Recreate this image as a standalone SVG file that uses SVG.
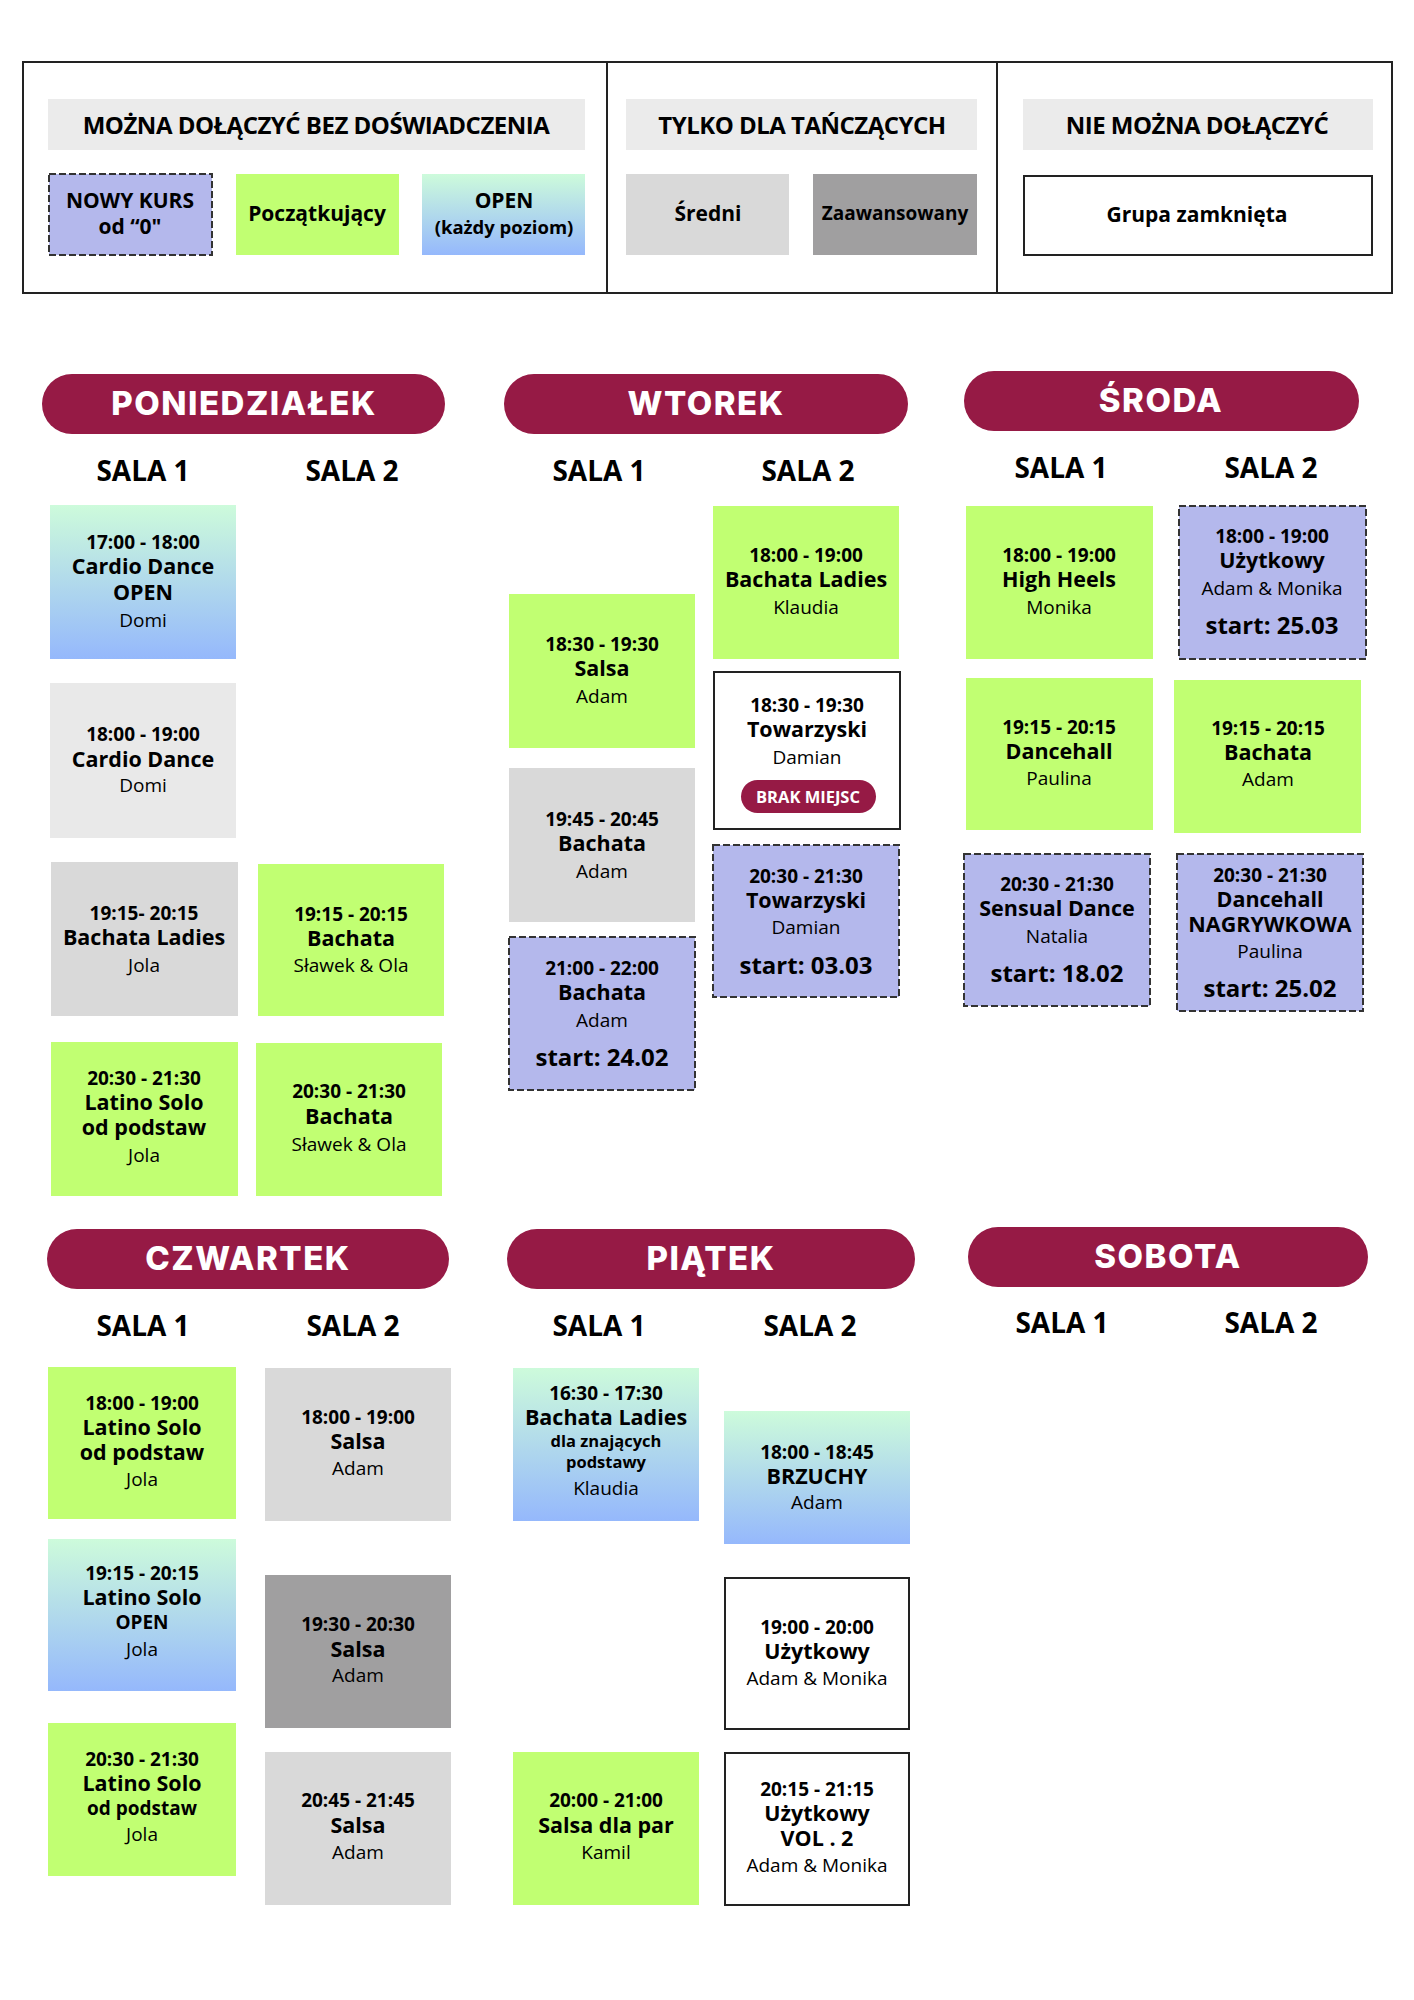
<svg xmlns="http://www.w3.org/2000/svg" width="1414" height="2000" viewBox="0 0 1414 2000">
<defs>
<linearGradient id="open" x1="0" y1="0" x2="0" y2="1">
<stop offset="0" stop-color="#cdfbdb"/>
<stop offset="1" stop-color="#95b8fc"/>
</linearGradient>
</defs>
<style>
text{font-family:"Open Sans","Liberation Sans",sans-serif;text-anchor:middle;fill:#000}
.leg{font-size:24px;font-weight:700;letter-spacing:-0.5px}
.legs{font-size:21px;font-weight:700}
.day{font-family:Inter,"Liberation Sans",sans-serif;font-size:33px;font-weight:800;fill:#fff;letter-spacing:1.5px}
.sala{font-size:28px;font-weight:700}
.t{font-size:19px;font-weight:700}
.h{font-size:21.5px;font-weight:700}
.s{font-size:16.5px;font-weight:700}
.n{font-size:19px;font-weight:400}
.st{font-size:24px;font-weight:700}
.brak{font-size:16.5px;font-weight:700;fill:#fff}
.pill{fill:#961a45}
.g{fill:#c1ff72}
.o{fill:url(#open)}
.m{fill:#d9d9d9}
.l{fill:#e9e9e9}
.d{fill:#a09fa0}
.p{fill:#b4b8ec;stroke:#333;stroke-width:2;stroke-dasharray:7 3}
.w{fill:#fff;stroke:#222;stroke-width:2}
.bar{fill:#ebebeb}
</style>
<rect width="1414" height="2000" fill="#fff"/>

<g id="legend">
<rect x="23" y="62" width="1369" height="231" fill="none" stroke="#222" stroke-width="2"/>
<line x1="607" y1="62" x2="607" y2="293" stroke="#222" stroke-width="2"/>
<line x1="997" y1="62" x2="997" y2="293" stroke="#222" stroke-width="2"/>
<rect class="bar" x="48" y="99" width="537" height="51"/>
<text class="leg" x="316" y="134">MOŻNA DOŁĄCZYĆ BEZ DOŚWIADCZENIA</text>
<rect class="bar" x="626" y="99" width="351" height="51"/>
<text class="leg" x="802" y="134">TYLKO DLA TAŃCZĄCYCH</text>
<rect class="bar" x="1023" y="99" width="350" height="51"/>
<text class="leg" x="1197" y="134">NIE MOŻNA DOŁĄCZYĆ</text>
<rect class="p" x="49" y="174" width="163" height="81"/>
<text class="legs" x="130" y="208">NOWY KURS</text>
<text class="legs" x="130" y="234">od “0"</text>
<rect class="g" x="236" y="174" width="163" height="81"/>
<text class="legs" x="317" y="221">Początkujący</text>
<rect class="o" x="422" y="174" width="163" height="81"/>
<text class="legs" x="504" y="208">OPEN</text>
<text class="legs" x="504" y="234" style="font-size:18.5px">(każdy poziom)</text>
<rect class="m" x="626" y="174" width="163" height="81"/>
<text class="legs" x="708" y="221">Średni</text>
<rect class="d" x="813" y="174" width="164" height="81"/>
<text class="legs" x="895" y="220" style="font-size:19px">Zaawansowany</text>
<rect class="w" x="1024" y="176" width="348" height="79"/>
<text class="legs" x="1197" y="222">Grupa zamknięta</text>
</g>

<g id="days">
<g id="pon-head"><rect class="pill" x="42" y="374" width="403" height="60" rx="30"/><text class="day" x="244" y="415">PONIEDZIAŁEK</text></g>
<g id="wt-head"><rect class="pill" x="504" y="374" width="404" height="60" rx="30"/><text class="day" x="706" y="415">WTOREK</text></g>
<g id="sr-head"><rect class="pill" x="964" y="371" width="395" height="60" rx="30"/><text class="day" x="1161" y="412">ŚRODA</text></g>
<g id="czw-head"><rect class="pill" x="47" y="1229" width="402" height="60" rx="30"/><text class="day" x="248" y="1270">CZWARTEK</text></g>
<g id="pt-head"><rect class="pill" x="507" y="1229" width="408" height="60" rx="30"/><text class="day" x="711" y="1270">PIĄTEK</text></g>
<g id="sob-head"><rect class="pill" x="968" y="1227" width="400" height="60" rx="30"/><text class="day" x="1168" y="1268">SOBOTA</text></g>
</g>

<g id="sale">
<text class="sala" x="143" y="481">SALA 1</text><text class="sala" x="352" y="481">SALA 2</text>
<text class="sala" x="599" y="481">SALA 1</text><text class="sala" x="808" y="481">SALA 2</text>
<text class="sala" x="1061" y="478">SALA 1</text><text class="sala" x="1271" y="478">SALA 2</text>
<text class="sala" x="143" y="1336">SALA 1</text><text class="sala" x="353" y="1336">SALA 2</text>
<text class="sala" x="599" y="1336">SALA 1</text><text class="sala" x="810" y="1336">SALA 2</text>
<text class="sala" x="1062" y="1333">SALA 1</text><text class="sala" x="1271" y="1333">SALA 2</text>
</g>

<g id="pon1-1"><rect class="o" x="50" y="505" width="186" height="154"/>
<text class="t" x="143" y="549">17:00 - 18:00</text><text class="h" x="143" y="574">Cardio Dance</text><text class="h" x="143" y="600">OPEN</text><text class="n" x="143" y="627">Domi</text></g>
<g id="pon1-2"><rect class="l" x="50" y="683" width="186" height="155"/>
<text class="t" x="143" y="741">18:00 - 19:00</text><text class="h" x="143" y="767">Cardio Dance</text><text class="n" x="143" y="792">Domi</text></g>
<g id="pon1-3"><rect class="m" x="51" y="862" width="187" height="154"/>
<text class="t" x="144" y="920">19:15- 20:15</text><text class="h" x="144" y="945">Bachata Ladies</text><text class="n" x="144" y="972">Jola</text></g>
<g id="pon1-4"><rect class="g" x="51" y="1042" width="187" height="154"/>
<text class="t" x="144" y="1085">20:30 - 21:30</text><text class="h" x="144" y="1110">Latino Solo</text><text class="h" x="144" y="1135">od podstaw</text><text class="n" x="144" y="1162">Jola</text></g>
<g id="pon2-1"><rect class="g" x="258" y="864" width="186" height="152"/>
<text class="t" x="351" y="921">19:15 - 20:15</text><text class="h" x="351" y="946">Bachata</text><text class="n" x="351" y="972">Sławek &amp; Ola</text></g>
<g id="pon2-2"><rect class="g" x="256" y="1043" width="186" height="153"/>
<text class="t" x="349" y="1098">20:30 - 21:30</text><text class="h" x="349" y="1124">Bachata</text><text class="n" x="349" y="1151">Sławek &amp; Ola</text></g>

<g id="wt1-1"><rect class="g" x="509" y="594" width="186" height="154"/>
<text class="t" x="602" y="651">18:30 - 19:30</text><text class="h" x="602" y="676">Salsa</text><text class="n" x="602" y="703">Adam</text></g>
<g id="wt1-2"><rect class="m" x="509" y="768" width="186" height="154"/>
<text class="t" x="602" y="826">19:45 - 20:45</text><text class="h" x="602" y="851">Bachata</text><text class="n" x="602" y="878">Adam</text></g>
<g id="wt1-3"><rect class="p" x="509" y="937" width="186" height="153"/>
<text class="t" x="602" y="975">21:00 - 22:00</text><text class="h" x="602" y="1000">Bachata</text><text class="n" x="602" y="1027">Adam</text><text class="st" x="602" y="1066">start: 24.02</text></g>
<g id="wt2-1"><rect class="g" x="713" y="506" width="186" height="153"/>
<text class="t" x="806" y="562">18:00 - 19:00</text><text class="h" x="806" y="587">Bachata Ladies</text><text class="n" x="806" y="614">Klaudia</text></g>
<g id="wt2-2"><rect class="w" x="714" y="672" width="186" height="157"/>
<text class="t" x="807" y="712">18:30 - 19:30</text><text class="h" x="807" y="737">Towarzyski</text><text class="n" x="807" y="764">Damian</text>
<rect class="pill" x="741" y="780" width="135" height="33" rx="16.5"/><text class="brak" x="808" y="803">BRAK MIEJSC</text></g>
<g id="wt2-3"><rect class="p" x="713" y="845" width="186" height="152"/>
<text class="t" x="806" y="883">20:30 - 21:30</text><text class="h" x="806" y="908">Towarzyski</text><text class="n" x="806" y="934">Damian</text><text class="st" x="806" y="974">start: 03.03</text></g>

<g id="sr1-1"><rect class="g" x="966" y="506" width="187" height="153"/>
<text class="t" x="1059" y="562">18:00 - 19:00</text><text class="h" x="1059" y="587">High Heels</text><text class="n" x="1059" y="614">Monika</text></g>
<g id="sr1-2"><rect class="g" x="966" y="678" width="187" height="152"/>
<text class="t" x="1059" y="734">19:15 - 20:15</text><text class="h" x="1059" y="759">Dancehall</text><text class="n" x="1059" y="785">Paulina</text></g>
<g id="sr1-3"><rect class="p" x="964" y="854" width="186" height="152"/>
<text class="t" x="1057" y="891">20:30 - 21:30</text><text class="h" x="1057" y="916">Sensual Dance</text><text class="n" x="1057" y="943">Natalia</text><text class="st" x="1057" y="982">start: 18.02</text></g>
<g id="sr2-1"><rect class="p" x="1179" y="506" width="187" height="153"/>
<text class="t" x="1272" y="543">18:00 - 19:00</text><text class="h" x="1272" y="568">Użytkowy</text><text class="n" x="1272" y="595">Adam &amp; Monika</text><text class="st" x="1272" y="634">start: 25.03</text></g>
<g id="sr2-2"><rect class="g" x="1174" y="680" width="187" height="153"/>
<text class="t" x="1268" y="735">19:15 - 20:15</text><text class="h" x="1268" y="760">Bachata</text><text class="n" x="1268" y="786">Adam</text></g>
<g id="sr2-3"><rect class="p" x="1177" y="854" width="186" height="157"/>
<text class="t" x="1270" y="882">20:30 - 21:30</text><text class="h" x="1270" y="907">Dancehall</text><text class="h" x="1270" y="932">NAGRYWKOWA</text><text class="n" x="1270" y="958">Paulina</text><text class="st" x="1270" y="997">start: 25.02</text></g>

<g id="czw1-1"><rect class="g" x="48" y="1367" width="188" height="152"/>
<text class="t" x="142" y="1410">18:00 - 19:00</text><text class="h" x="142" y="1435">Latino Solo</text><text class="h" x="142" y="1460">od podstaw</text><text class="n" x="142" y="1486">Jola</text></g>
<g id="czw1-2"><rect class="o" x="48" y="1539" width="188" height="152"/>
<text class="t" x="142" y="1580">19:15 - 20:15</text><text class="h" x="142" y="1605">Latino Solo</text><text class="t" x="142" y="1629">OPEN</text><text class="n" x="142" y="1656">Jola</text></g>
<g id="czw1-3"><rect class="g" x="48" y="1723" width="188" height="153"/>
<text class="t" x="142" y="1766">20:30 - 21:30</text><text class="h" x="142" y="1791">Latino Solo</text><text class="t" x="142" y="1815">od podstaw</text><text class="n" x="142" y="1841">Jola</text></g>
<g id="czw2-1"><rect class="m" x="265" y="1368" width="186" height="153"/>
<text class="t" x="358" y="1424">18:00 - 19:00</text><text class="h" x="358" y="1449">Salsa</text><text class="n" x="358" y="1475">Adam</text></g>
<g id="czw2-2"><rect class="d" x="265" y="1575" width="186" height="153"/>
<text class="t" x="358" y="1631">19:30 - 20:30</text><text class="h" x="358" y="1657">Salsa</text><text class="n" x="358" y="1682">Adam</text></g>
<g id="czw2-3"><rect class="m" x="265" y="1752" width="186" height="153"/>
<text class="t" x="358" y="1807">20:45 - 21:45</text><text class="h" x="358" y="1833">Salsa</text><text class="n" x="358" y="1859">Adam</text></g>

<g id="pt1-1"><rect class="o" x="513" y="1368" width="186" height="153"/>
<text class="t" x="606" y="1400">16:30 - 17:30</text><text class="h" x="606" y="1425">Bachata Ladies</text><text class="s" x="606" y="1447">dla znających</text><text class="s" x="606" y="1468">podstawy</text><text class="n" x="606" y="1495">Klaudia</text></g>
<g id="pt1-2"><rect class="g" x="513" y="1752" width="186" height="153"/>
<text class="t" x="606" y="1807">20:00 - 21:00</text><text class="h" x="606" y="1833">Salsa dla par</text><text class="n" x="606" y="1859">Kamil</text></g>
<g id="pt2-1"><rect class="o" x="724" y="1411" width="186" height="133"/>
<text class="t" x="817" y="1459">18:00 - 18:45</text><text class="h" x="817" y="1484">BRZUCHY</text><text class="n" x="817" y="1509">Adam</text></g>
<g id="pt2-2"><rect class="w" x="725" y="1578" width="184" height="151"/>
<text class="t" x="817" y="1634">19:00 - 20:00</text><text class="h" x="817" y="1659">Użytkowy</text><text class="n" x="817" y="1685">Adam &amp; Monika</text></g>
<g id="pt2-3"><rect class="w" x="725" y="1753" width="184" height="152"/>
<text class="t" x="817" y="1796">20:15 - 21:15</text><text class="h" x="817" y="1821">Użytkowy</text><text class="h" x="817" y="1846">VOL . 2</text><text class="n" x="817" y="1872">Adam &amp; Monika</text></g>
</svg>
